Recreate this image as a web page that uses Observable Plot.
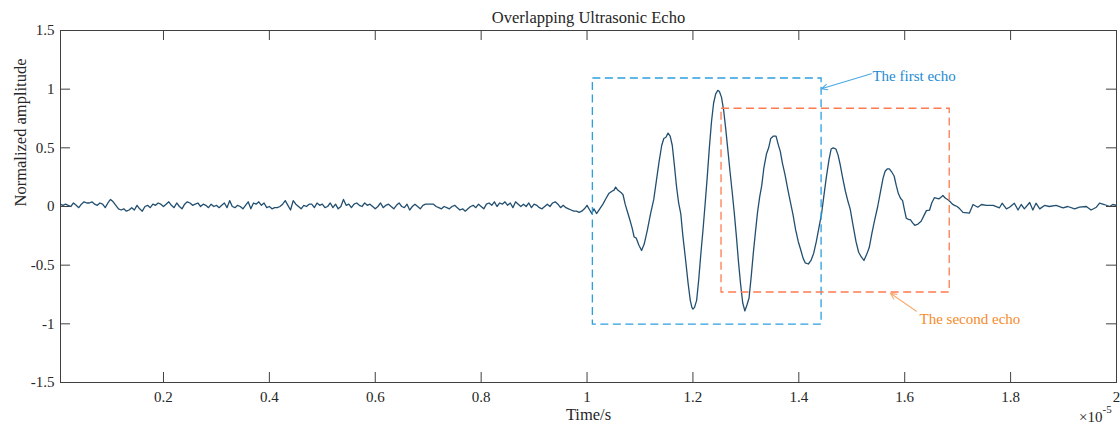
<!DOCTYPE html>
<html><head><meta charset="utf-8">
<script src="https://cdn.jsdelivr.net/npm/d3@7"></script>
<script src="https://cdn.jsdelivr.net/npm/@observablehq/plot@0.6"></script>
<style>body{margin:0;background:#fff} svg{display:block}</style>
</head><body><div id="chart"></div>
<script>
// ---- data (time in units of 1e-5 s, normalized amplitude) ----
const leadStart = 0.005, leadStep = 0.005;
const leadNoise = [
  0.02,0.01,0.02,0.01,0.00,0.03,0.01,-0.01,0.02,0.04,0.03,0.03,0.04,0.02,0.01,0.03,0.02,-0.01,0.03,0.06,
  0.04,0.01,-0.02,-0.03,-0.02,-0.04,-0.03,-0.01,-0.03,0.01,-0.02,-0.04,0.00,0.01,-0.01,0.02,0.01,0.03,0.02,0.00,
  0.02,0.04,0.01,-0.01,0.03,0.00,-0.02,0.02,0.04,0.03,0.01,0.02,0.03,0.00,0.02,0.01,-0.01,0.02,0.00,0.01,
  -0.01,0.01,0.03,-0.01,0.05,0.00,-0.01,0.01,0.00,-0.02,0.01,0.04,-0.02,0.03,0.02,0.04,0.01,0.03,-0.01,0.00,
  -0.02,-0.01,-0.01,0.00,0.02,0.05,0.01,-0.03,0.05,0.02,0.00,-0.02,0.01,0.00,0.02,0.02,-0.01,0.03,0.01,0.02,
  -0.01,0.00,0.03,-0.01,0.02,-0.02,0.00,0.06,0.01,0.02,-0.01,0.02,0.03,0.01,0.00,0.03,0.01,0.02,0.00,-0.02,
  0.00,0.03,-0.01,0.01,0.02,0.00,-0.02,0.01,0.03,0.00,-0.01,0.02,-0.03,0.00,0.02,0.00,-0.02,0.01,0.02,0.02,
  0.02,0.02,0.00,-0.01,-0.02,0.00,-0.01,-0.02,0.00,0.01,-0.01,-0.03,-0.02,-0.04,-0.02,0.00,0.01,-0.01,0.02,0.00,
  -0.02,0.02,0.03,0.01,0.04,0.00,0.03,0.02,0.04,0.01,0.03,-0.01,0.04,0.02,0.00,0.02,0.00,0.03,-0.01,0.02,
  0.01,-0.01,-0.02,0.00,0.02,0.00,0.03,0.04,0.02,-0.01,0.01,-0.01,-0.02,-0.03,-0.04,-0.04,-0.05,-0.04,-0.02
];
const echoT = [1.000,1.005,1.009,1.013,1.018,1.024,1.030,1.036,1.041,1.047,1.051,1.054,1.058,1.064,1.068,1.072,1.076,1.080,1.085,1.089,
  1.093,1.098,1.103,1.108,1.114,1.120,1.126,1.131,1.136,1.141,1.145,1.149,1.153,1.157,1.161,1.165,1.169,1.173,1.177,1.181,
  1.186,1.191,1.195,1.198,1.200,1.203,1.207,1.211,1.215,1.219,1.223,1.227,1.231,1.235,1.239,1.243,1.247,1.250,1.254,1.258,
  1.262,1.266,1.270,1.274,1.278,1.282,1.286,1.290,1.294,1.298,1.302,1.306,1.310,1.314,1.318,1.322,1.326,1.330,1.334,1.339,
  1.343,1.347,1.352,1.357,1.361,1.365,1.369,1.374,1.379,1.384,1.389,1.394,1.399,1.403,1.408,1.412,1.418,1.423,1.428,1.433,
  1.438,1.443,1.447,1.452,1.457,1.461,1.465,1.470,1.474,1.478,1.483,1.488,1.493,1.497,1.502,1.508,1.513,1.518,1.523,1.528,
  1.533,1.538,1.543,1.549,1.554,1.559,1.563,1.567,1.571,1.576,1.580,1.584,1.588,1.592,1.596,1.600,1.603,1.607,1.611,1.615,
  1.619,1.625,1.631,1.636,1.641,1.647,1.651,1.656,1.661,1.665,1.669,1.672,1.677,1.681,1.685,1.690,1.694,1.699,1.704];
const echoA = [0.01,-0.03,-0.06,-0.02,-0.06,-0.02,0.02,0.07,0.11,0.13,0.14,0.165,0.14,0.12,0.10,0.02,-0.04,-0.10,-0.18,-0.26,
  -0.27,-0.33,-0.375,-0.32,-0.20,-0.06,0.06,0.22,0.38,0.52,0.58,0.59,0.625,0.60,0.52,0.35,0.17,0.03,-0.06,-0.25,
  -0.45,-0.66,-0.80,-0.86,-0.875,-0.86,-0.80,-0.62,-0.40,-0.20,0.02,0.25,0.50,0.72,0.88,0.96,0.99,0.98,0.93,0.82,
  0.66,0.48,0.30,0.13,-0.05,-0.25,-0.47,-0.66,-0.82,-0.89,-0.84,-0.78,-0.60,-0.40,-0.22,-0.05,0.08,0.18,0.33,0.45,
  0.50,0.58,0.60,0.60,0.53,0.47,0.37,0.27,0.15,0.04,-0.07,-0.20,-0.30,-0.36,-0.44,-0.48,-0.49,-0.46,-0.40,-0.30,
  -0.18,-0.06,0.08,0.25,0.40,0.49,0.50,0.49,0.44,0.36,0.24,0.13,0.04,-0.02,-0.15,-0.30,-0.39,-0.43,-0.46,-0.41,
  -0.35,-0.23,-0.12,0.00,0.12,0.24,0.30,0.32,0.32,0.29,0.26,0.18,0.11,0.07,0.05,-0.04,-0.10,-0.11,-0.115,-0.14,
  -0.16,-0.15,-0.125,-0.08,-0.035,-0.03,0.03,0.075,0.07,0.065,0.08,0.094,0.07,0.06,0.045,0.02,0.01,0.00,-0.02];
const tailT = [1.710,1.722,1.729,1.738,1.745,1.754,1.767,1.779,1.784,1.792,1.798,1.807,1.814,1.820,1.826,1.836,1.842,1.848,1.855,1.864,
  1.873,1.886,1.899,1.908,1.921,1.930,1.943,1.952,1.962,1.968,1.977,1.987,1.993,2.000];
const tailA = [-0.05,-0.057,0.017,-0.006,0.017,0.009,0.009,-0.011,0.028,-0.02,-0.006,0.028,-0.03,0.017,-0.02,0.034,-0.03,0.028,-0.02,0.009,
  0.00,0.009,-0.011,0.00,-0.02,-0.006,0.00,-0.03,-0.006,0.028,0.017,0.00,0.017,0.01];

const xTicks = [0.2,0.4,0.6,0.8,1,1.2,1.4,1.6,1.8,2];
const yTicks = [-1.5,-1,-0.5,0,0.5,1,1.5];

// annotation boxes (data units)
const boxT0 = [1.011, 1.254], boxT1 = [1.443, 1.685];
const boxA0 = [-1.006, -0.733], boxA1 = [1.091, 0.833];
const boxColor = ["#2c9fe0", "#ff7b4f"];
// annotation labels and arrows
const noteText = ["The first echo", "The second echo"];
const noteT = [1.539, 1.628], noteA = [1.108, -0.963];
const noteColor = ["#1b8ad2", "#f68a2a"];
const arrowT1 = [1.537, 1.622], arrowA1 = [1.131, -0.893];
const arrowT2 = [1.4426, 1.573], arrowA2 = [1.003, -0.739];
const arrowColor = ["#4aa9e4", "#f7ab70"];

// ---- build tables ----
const wave = [
  ...leadNoise.map((a, i) => ({t: leadStart + leadStep * i, a})),
  ...echoT.map((t, i) => ({t, a: echoA[i]})),
  ...tailT.map((t, i) => ({t, a: tailA[i]}))
];
const boxes = boxT0.map((t0, i) => ({t0, t1: boxT1[i], a0: boxA0[i], a1: boxA1[i], c: boxColor[i]}));
const notes = noteText.map((s, i) => ({s, t: noteT[i], a: noteA[i], c: noteColor[i]}));
const arrows = arrowT1.map((t1, i) => ({t1, a1: arrowA1[i], t2: arrowT2[i], a2: arrowA2[i], c: arrowColor[i]}));

const FONT = '"Liberation Serif", "Times New Roman", Times, serif';
const ink = "#262626", axisInk = "#404040";

const chart = Plot.plot({
  width: 1120, height: 428,
  marginLeft: 60, marginRight: 4, marginTop: 30, marginBottom: 46,
  style: {fontFamily: FONT, fontSize: "15px", color: ink, background: "white"},
  x: {domain: [0.0055, 2]},
  y: {domain: [-1.5, 1.5]},
  marks: [
    Plot.line(wave, {x: "t", y: "a", stroke: "#224f70", strokeWidth: 1.3, clip: true}),
    Plot.rect(boxes, {x1: "t0", x2: "t1", y1: "a0", y2: "a1", fill: "none", stroke: "c", strokeWidth: 1.3, strokeDasharray: "8,4.5"}),
    Plot.arrow(arrows, {x1: "t1", y1: "a1", x2: "t2", y2: "a2", stroke: "c", strokeWidth: 1.1, headLength: 9, headAngle: 50}),
    Plot.text(notes, {x: "t", y: "a", text: "s", fill: "c", textAnchor: "start", fontSize: 15}),
    Plot.frame({stroke: axisInk, strokeWidth: 1}),
    Plot.tickX(xTicks, {x: d => d, insetTop: 342, stroke: axisInk}),
    Plot.tickX(xTicks, {x: d => d, insetBottom: 342, stroke: axisInk}),
    Plot.tickY(yTicks, {y: d => d, insetRight: 1046, stroke: axisInk}),
    Plot.tickY(yTicks, {y: d => d, insetLeft: 1046, stroke: axisInk}),
    Plot.axisX(xTicks, {tickSize: 0, tickPadding: 9, tickFormat: d => String(d), label: null, fontSize: 15, fill: ink}),
    Plot.axisY(yTicks, {tickSize: 0, tickPadding: 6, tickFormat: d => String(d), label: null, fontSize: 15, fill: ink}),
    Plot.text(["Overlapping Ultrasonic Echo"], {frameAnchor: "top", lineAnchor: "middle", dy: -13, fontSize: 16.5, fill: ink}),
    Plot.text(["Time/s"], {frameAnchor: "bottom", lineAnchor: "middle", dy: 32, fontSize: 16.5, fill: ink}),
    Plot.text(["Normalized amplitude"], {frameAnchor: "left", lineAnchor: "middle", dx: -40, rotate: -90, fontSize: 16.5, fill: ink}),
    Plot.text(["\u00d710"], {frameAnchor: "bottom-right", lineAnchor: "middle", dx: -14, dy: 35, textAnchor: "end", fontSize: 15, fill: ink}),
    Plot.text(["-5"], {frameAnchor: "bottom-right", lineAnchor: "middle", dx: -14, dy: 27, textAnchor: "start", fontSize: 11, fill: ink})
  ]
});
document.getElementById("chart").appendChild(chart);
</script>
</body></html>
